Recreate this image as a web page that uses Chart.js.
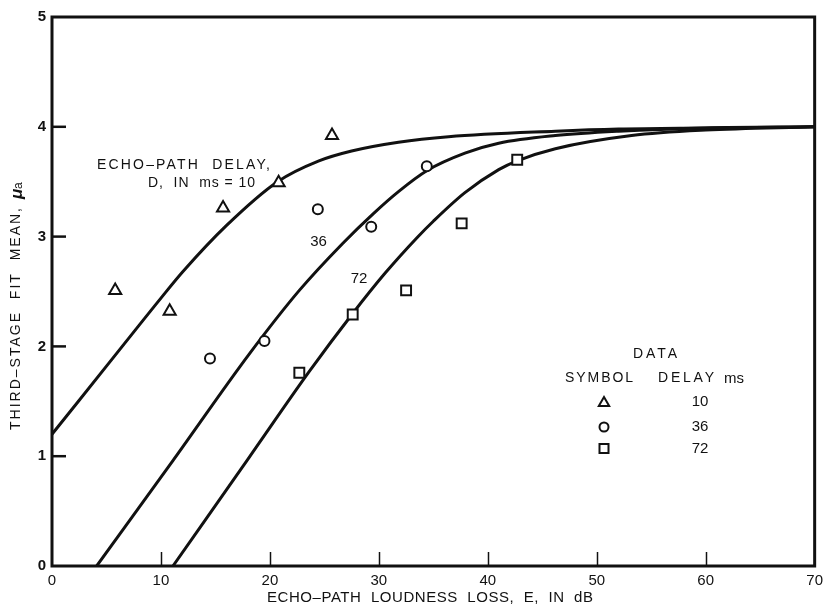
<!DOCTYPE html>
<html>
<head>
<meta charset="utf-8">
<script src="https://cdn.jsdelivr.net/npm/chart.js@4.4.1/dist/chart.umd.min.js"></script>
<style>
  html, body { margin: 0; padding: 0; background: #fff; }
  #wrap { width: 829px; height: 609px; }
</style>
</head>
<body>
<div id="wrap"><canvas id="chart" width="829" height="609"></canvas></div>
<script>
// Measured means per echo-path delay (E in dB, mean value)
const tri10E = [5.8, 10.8, 15.7, 20.8, 25.7];
const tri10Mu = [2.51, 2.32, 3.26, 3.49, 3.92];
const circ36E = [14.5, 19.5, 24.4, 29.3, 34.4];
const circ36Mu = [1.89, 2.05, 3.25, 3.09, 3.64];
const sq72E = [22.7, 27.6, 32.5, 37.6, 42.7];
const sq72Mu = [1.76, 2.29, 2.51, 3.12, 3.70];

// Fitted curves, D = 10, 36, 72 ms
const fit10E = [0, 5, 10, 12, 16, 20.7, 24.5, 27.5, 31.8, 36.4, 46.2, 52, 60, 70];
const fit10Mu = [1.20, 1.82, 2.44, 2.68, 3.10, 3.50, 3.69, 3.78, 3.86, 3.91, 3.96, 3.98, 3.99, 4.0];
const fit36E = [4.1, 11.1, 18.1, 22.7, 26.7, 29.5, 31.8, 34.4, 37.9, 41.0, 46.2, 52, 60, 70];
const fit36Mu = [0, 0.96, 1.93, 2.51, 2.94, 3.21, 3.41, 3.60, 3.76, 3.85, 3.92, 3.96, 3.99, 4.0];
const fit72E = [11.1, 18.1, 23.6, 27.6, 30.6, 33.5, 35.0, 37.9, 41.0, 42.7, 46.2, 53.2, 60, 70];
const fit72Mu = [0, 0.99, 1.77, 2.30, 2.67, 2.99, 3.14, 3.40, 3.61, 3.69, 3.80, 3.92, 3.97, 4.0];

const xTicks = [0, 10, 20, 30, 40, 50, 60, 70];
const yTicks = [0, 1, 2, 3, 4, 5];

const FONT = "'Liberation Sans', Arial, sans-serif";
const INK = '#111';

function toPoints(xs, ys) {
    return xs.map((x, i) => ({ x: x, y: ys[i] }));
}

function markerSet(xs, ys, style, r) {
    return {
        type: 'scatter',
        data: toPoints(xs, ys),
        pointStyle: style,
        pointRadius: r,
        pointBackgroundColor: '#fff',
        pointBorderColor: INK,
        pointBorderWidth: 2,
        order: 0
    };
}

function curveSet(xs, ys) {
    return {
        type: 'line',
        data: toPoints(xs, ys),
        borderColor: INK,
        borderWidth: 3,
        pointRadius: 0,
        cubicInterpolationMode: 'monotone',
        fill: false,
        order: 1
    };
}

// Stretch a string to a given width with letter spacing
function spacedText(ctx, text, x, y, width) {
    ctx.letterSpacing = '0px';
    const w = ctx.measureText(text).width;
    const gap = Math.max(0, (width - w) / (text.length - 1));
    ctx.letterSpacing = gap + 'px';
    ctx.textAlign = 'left';
    ctx.fillText(text, x, y);
    ctx.letterSpacing = '0px';
}

function drawMarker(ctx, style, x, y, r) {
    ctx.save();
    ctx.lineWidth = 2;
    ctx.strokeStyle = INK;
    ctx.fillStyle = '#fff';
    ctx.beginPath();
    if (style === 'triangle') {
        ctx.moveTo(x, y - r);
        ctx.lineTo(x + r * 0.866, y + r / 2);
        ctx.lineTo(x - r * 0.866, y + r / 2);
        ctx.closePath();
    } else if (style === 'circle') {
        ctx.arc(x, y, r, 0, Math.PI * 2);
    } else {
        ctx.rect(x - r, y - r, r * 2, r * 2);
    }
    ctx.fill();
    ctx.stroke();
    ctx.restore();
}

// Frame, inward ticks, curve labels, symbol key and y title
const decorations = {
    id: 'decorations',
    afterDraw(chart) {
        const ctx = chart.ctx;
        const a = chart.chartArea;
        const xs = chart.scales.x;
        const ys = chart.scales.y;
        ctx.save();

        ctx.strokeStyle = INK;
        ctx.lineWidth = 3;
        ctx.strokeRect(a.left, a.top, a.right - a.left, a.bottom - a.top);

        ctx.lineWidth = 1.5;
        xTicks.slice(1, -1).forEach(v => {
            const px = Math.round(xs.getPixelForValue(v)) + 0.5;
            ctx.beginPath();
            ctx.moveTo(px, a.bottom);
            ctx.lineTo(px, a.bottom - 14);
            ctx.stroke();
        });
        ctx.lineWidth = 2.5;
        yTicks.slice(1, -1).forEach(v => {
            const py = ys.getPixelForValue(v);
            ctx.beginPath();
            ctx.moveTo(a.left, py);
            ctx.lineTo(a.left + 14, py);
            ctx.stroke();
        });

        ctx.fillStyle = INK;
        ctx.textBaseline = 'middle';
        ctx.font = '14px ' + FONT;
        spacedText(ctx, 'ECHO\u2013PATH  DELAY,', 97, 165, 173);
        spacedText(ctx, 'D,  IN  ms = 10', 148, 183, 107);

        ctx.font = '15px ' + FONT;
        ctx.textAlign = 'center';
        ctx.fillText('36', 318.5, 242);
        ctx.fillText('72', 359, 279);

        // symbol key
        ctx.font = '14px ' + FONT;
        spacedText(ctx, 'DATA', 633, 354, 44);
        spacedText(ctx, 'SYMBOL', 565, 378, 68);
        spacedText(ctx, 'DELAY', 658, 378, 56);
        ctx.font = '15px ' + FONT;
        ctx.fillText('ms', 724, 379);
        ctx.textAlign = 'center';
        ctx.fillText('10', 700, 402);
        ctx.fillText('36', 700, 427);
        ctx.fillText('72', 700, 449);
        drawMarker(ctx, 'triangle', 604, 403, 6);
        drawMarker(ctx, 'circle', 604, 427, 4.5);
        drawMarker(ctx, 'rect', 604, 448.5, 4.5);

        // x axis title
        ctx.font = '15px ' + FONT;
        spacedText(ctx, 'ECHO\u2013PATH  LOUDNESS  LOSS,  E,  IN  dB', 267, 598, 326);

        // y axis title, read bottom to top
        ctx.translate(16, 430);
        ctx.rotate(-Math.PI / 2);
        ctx.font = '14px ' + FONT;
        spacedText(ctx, 'THIRD\u2013STAGE  FIT  MEAN,', 0, 0, 222);
        ctx.font = 'italic bold 17px ' + FONT;
        ctx.textAlign = 'left';
        ctx.fillText('\u03bc', 231, 1);
        ctx.font = '12px ' + FONT;
        ctx.fillText('a', 241, 3);

        ctx.restore();
    }
};

new Chart(document.getElementById('chart'), {
    data: {
        datasets: [
            markerSet(tri10E, tri10Mu, 'triangle', 7),
            markerSet(circ36E, circ36Mu, 'circle', 5),
            markerSet(sq72E, sq72Mu, 'rect', 7),
            curveSet(fit10E, fit10Mu),
            curveSet(fit36E, fit36Mu),
            curveSet(fit72E, fit72Mu)
        ]
    },
    options: {
        responsive: false,
        animation: false,
        events: [],
        layout: { padding: { top: 17, right: 13, left: 0, bottom: 0 } },
        plugins: {
            legend: { display: false },
            tooltip: { enabled: false }
        },
        scales: {
            x: {
                type: 'linear',
                min: 0,
                max: 70,
                grid: { display: false, drawTicks: false },
                border: { display: false },
                ticks: {
                    stepSize: 10,
                    padding: 6,
                    maxRotation: 0,
                    autoSkip: false,
                    color: INK,
                    font: { family: FONT, size: 15 }
                },
                afterFit: s => { s.height = 43; }
            },
            y: {
                type: 'linear',
                min: 0,
                max: 5,
                grid: { display: false, drawTicks: false },
                border: { display: false },
                ticks: {
                    stepSize: 1,
                    padding: 6,
                    color: INK,
                    font: { family: FONT, size: 15, weight: 'bold' }
                },
                afterFit: s => { s.width = 52; }
            }
        }
    },
    plugins: [decorations]
});
</script>
</body>
</html>
